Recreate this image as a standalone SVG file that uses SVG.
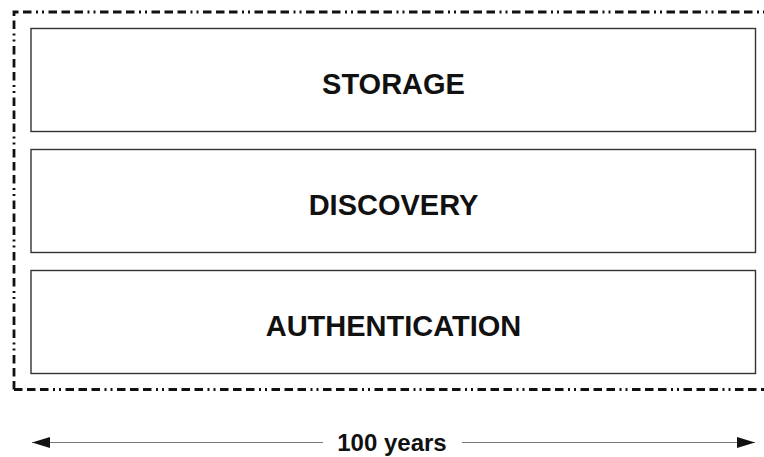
<svg xmlns="http://www.w3.org/2000/svg" width="764" height="457" viewBox="0 0 764 457">
  <style>
    .frame { fill: none; stroke: #111; stroke-width: 2.8; stroke-dasharray: 8.5 4.5 8.5 4.5 8.5 4.5 2 4 2 4.5; }
    .layer rect { fill: #fff; stroke: #333; stroke-width: 1.4; }
    .layer text { font-family: "Liberation Sans", Arial, sans-serif; font-weight: bold; font-size: 29px; fill: #111; text-anchor: middle; }
    .span { stroke: #777; stroke-width: 1.2; fill: none; }
    .span-label { font-family: "Liberation Sans", Arial, sans-serif; font-weight: bold; font-size: 24px; fill: #111; text-anchor: middle; }
  </style>
  <defs>
    <marker id="head" viewBox="0 0 18 11" refX="18" refY="5.5" markerWidth="18" markerHeight="11" markerUnits="userSpaceOnUse" orient="auto-start-reverse">
      <path d="M0 0 L18 5.5 L0 11 Z" fill="#111"/>
    </marker>
  </defs>

  <rect width="764" height="457" fill="#fff"/>

  <!-- dash-dot boundary around the stack -->
  <path class="frame" d="M14 389.5 V12 H780"/>
  <path class="frame" d="M14 389.5 H780"/>

  <g id="storage" class="layer">
    <rect x="31" y="28.5" width="724.5" height="103"/>
    <text x="393.5" y="93.5">STORAGE</text>
  </g>
  <g id="discovery" class="layer">
    <rect x="31" y="149.5" width="724.5" height="103"/>
    <text x="393.5" y="214.5">DISCOVERY</text>
  </g>
  <g id="authentication" class="layer">
    <rect x="31" y="270.5" width="724.5" height="103"/>
    <text x="393.5" y="335.5">AUTHENTICATION</text>
  </g>

  <!-- time span -->
  <g id="connectors">
    <line class="span" x1="323" y1="442.5" x2="32" y2="442.5" marker-end="url(#head)"/>
    <line class="span" x1="462" y1="442.5" x2="755" y2="442.5" marker-end="url(#head)"/>
  </g>
  <text class="span-label" x="392" y="451">100 years</text>
</svg>
